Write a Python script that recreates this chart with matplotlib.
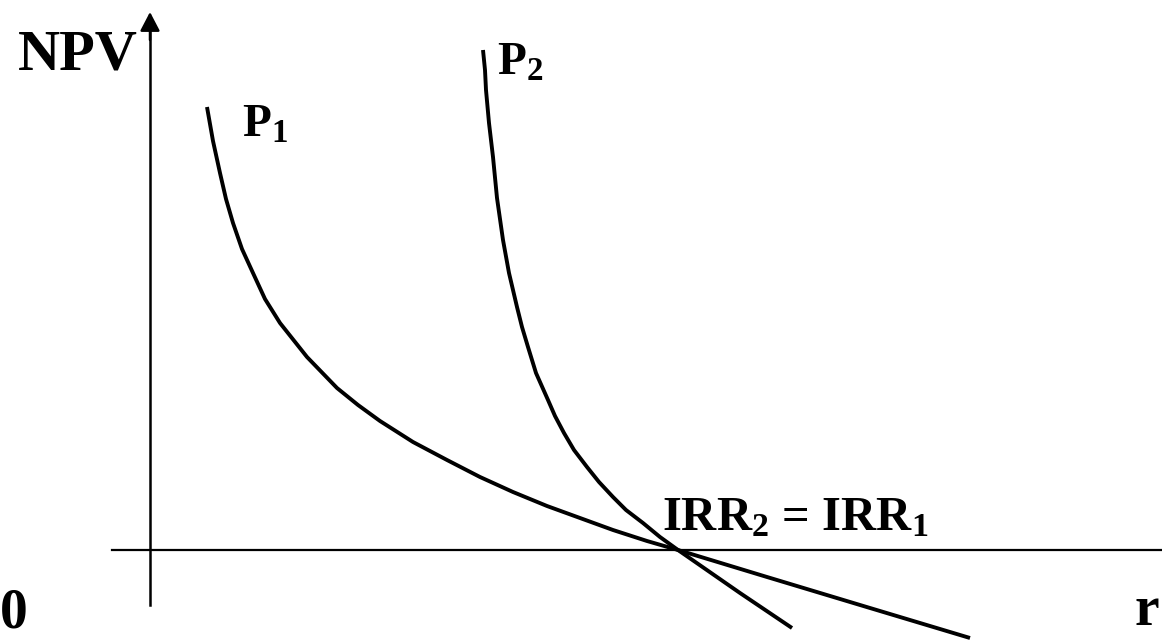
import numpy as np
import matplotlib.pyplot as plt

plt.rcParams['font.family'] = ['Liberation Serif', 'DejaVu Serif']
plt.rcParams['mathtext.fontset'] = 'custom'
plt.rcParams['mathtext.rm'] = 'Liberation Serif:bold'
plt.rcParams['mathtext.bf'] = 'Liberation Serif:bold'
plt.rcParams['mathtext.it'] = 'Liberation Serif:bold'

# NPV profiles of two projects (arbitrary units)
r_p1 = [0.57, 0.63, 0.70, 0.76, 0.83, 0.92, 1.03, 1.15, 1.30, 1.57, 1.87,
        2.08, 2.30, 2.63, 2.97, 3.30, 3.63, 3.97, 4.30, 4.63, 4.97, 5.28,
        6.17, 7.20, 8.20]
npv_p1 = [4.43, 4.09, 3.77, 3.51, 3.27, 3.01, 2.77, 2.51, 2.27, 1.93, 1.62,
          1.45, 1.29, 1.08, 0.90, 0.73, 0.58, 0.44, 0.32, 0.20, 0.09, 0.0,
          -0.27, -0.58, -0.88]

r_p2 = [3.33, 3.35, 3.36, 3.39, 3.43, 3.47, 3.53, 3.59, 3.67, 3.72, 3.78,
        3.86, 3.98, 4.05, 4.14, 4.24, 4.37, 4.49, 4.63, 4.76, 4.93, 5.10,
        5.28, 5.90, 6.42]
npv_p2 = [5.00, 4.80, 4.60, 4.27, 3.93, 3.52, 3.10, 2.77, 2.43, 2.23, 2.03,
          1.77, 1.50, 1.34, 1.17, 1.00, 0.83, 0.68, 0.53, 0.40, 0.27, 0.13,
          0.0, -0.43, -0.78]

fig = plt.figure(figsize=(11.62, 6.41), dpi=100)
ax = fig.add_axes([0, 0, 1, 1])
ax.set_xlim(-1.5, 10.12)
ax.set_ylim(-0.91, 5.5)
ax.axis('off')

# axes
ax.plot([-0.38, 10.12], [0, 0], color='black', lw=1.6)
ax.plot([0, 0], [-0.55, 5.25], color='black', lw=1.8)
ax.annotate('', xy=(0, 5.38), xytext=(0, 5.1),
            arrowprops=dict(arrowstyle='-|>,head_length=1.15,head_width=0.6',
                            color='black', lw=1.8, shrinkA=0, shrinkB=0,
                            mutation_scale=10))

# curves
ax.plot(r_p1, npv_p1, color='black', lw=2.8, solid_capstyle='butt',
        solid_joinstyle='round')
ax.plot(r_p2, npv_p2, color='black', lw=2.8, solid_capstyle='butt',
        solid_joinstyle='round')

# labels
ax.text(-1.32, 4.8, 'NPV', fontsize=42, fontweight='bold', va='baseline')
ax.text(-1.5, -0.77, '0', fontsize=40, fontweight='bold', va='baseline')
ax.text(9.85, -0.75, 'r', fontsize=40, fontweight='bold', va='baseline')
ax.text(0.92, 4.13, r'P$_\mathbf{1}$', fontsize=34, fontweight='bold',
        va='baseline')
ax.text(3.47, 4.75, r'P$_\mathbf{2}$', fontsize=34, fontweight='bold',
        va='baseline')
ax.text(5.12, 0.2, r'IRR$_\mathbf{2}$ = IRR$_\mathbf{1}$', fontsize=35,
        fontweight='bold', va='baseline')

fig.savefig('out.png', dpi=100)
